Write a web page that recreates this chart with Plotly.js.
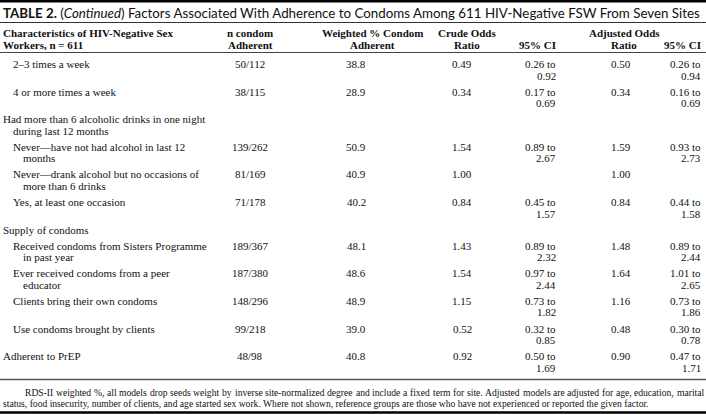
<!DOCTYPE html>
<html><head><meta charset="utf-8">
<script src="https://cdn.plot.ly/plotly-3.0.1.min.js"></script>
<style>html,body{margin:0;padding:0;background:#fff}</style>
</head><body><div id="chart" style="width:706px;height:415px"></div>
<script>
// ---------- data ----------
const titleLabel = "TABLE 2.";
const titleNote = "Continued";
const titleText = "Factors Associated With Adherence to Condoms Among 611 HIV-Negative FSW From Seven Sites";
const headerCharacteristics = ["Characteristics of HIV-Negative Sex", "Workers, n = 611"];
const headerN = ["n condom", "Adherent"];
const headerPct = ["Weighted % Condom", "Adherent"];
const headerCrude = ["Crude Odds", "Ratio"];
const headerCI = ["", "95% CI"];
const headerAdj = ["Adjusted Odds", "Ratio"];

const characteristics = [
  "2–3 times a week",
  "4 or more times a week",
  "Had more than 6 alcoholic drinks in one night\nduring last 12 months",
  "Never—have not had alcohol in last 12\nmonths",
  "Never—drank alcohol but no occasions of\nmore than 6 drinks",
  "Yes, at least one occasion",
  "Supply of condoms",
  "Received condoms from Sisters Programme\nin past year",
  "Ever received condoms from a peer\neducator",
  "Clients bring their own condoms",
  "Use condoms brought by clients",
  "Adherent to PrEP"
];
const levels = [1, 1, 0, 1, 1, 1, 0, 1, 1, 1, 1, 0];
const nAdherent = ["50/112", "38/115", null, "139/262", "81/169", "71/178", null, "189/367", "187/380", "148/296", "99/218", "48/98"];
const weightedPct = [38.8, 28.9, null, 50.9, 40.9, 40.2, null, 48.1, 48.6, 48.9, 39.0, 40.8];
const crudeOR = [0.49, 0.34, null, 1.54, 1.00, 0.84, null, 1.43, 1.54, 1.15, 0.52, 0.92];
const crudeLo = [0.26, 0.17, null, 0.89, null, 0.45, null, 0.89, 0.97, 0.73, 0.32, 0.50];
const crudeHi = [0.92, 0.69, null, 2.67, null, 1.57, null, 2.32, 2.44, 1.82, 0.85, 1.69];
const adjOR = [0.50, 0.34, null, 1.59, 1.00, 0.84, null, 1.48, 1.64, 1.16, 0.48, 0.90];
const adjLo = [0.26, 0.16, null, 0.93, null, 0.44, null, 0.89, 1.01, 0.73, 0.30, 0.47];
const adjHi = [0.94, 0.69, null, 2.73, null, 1.58, null, 2.44, 2.65, 1.86, 0.78, 1.71];

const footnoteLines = [
  "RDS-II weighted %, all models drop seeds weight by inverse site-normalized degree and include a fixed term for site. Adjusted models are adjusted for age, education, marital",
  "status, food insecurity, number of clients, and age started sex work. Where not shown, reference groups are those who have not experienced or reported the given factor."
];

// ---------- layout helpers ----------
const SERIF = "Liberation Serif, Times New Roman, serif";
const SANS = "Lato";
const BODY = 11, LINE = 11.5, PAD = 4.6;
const col = {
  lab0: 2, lab0wrap: 12, lab1: 12, lab1wrap: 22,
  n: 250, pct: 356, pctHead: 372,
  crude: 462, crudeHead: 467, crudeCI: 557,
  adj: 621, adjHead: 624, adjCI: 702
};
const cv = document.createElement("canvas").getContext("2d");
const ann = [];
function txt(x, y, t, anchor, opts) {
  opts = opts || {};
  ann.push({
    x: x, y: y, xref: "x", yref: "y", text: t, showarrow: false,
    xanchor: anchor, yanchor: "middle", borderpad: 0,
    font: Object.assign({family: SERIF, size: BODY, color: "#111"}, opts.font || {})
  });
}

// title, sized to span the table width
(function () {
  function w(size) {
    let s = 0;
    cv.font = "bold " + size + "px " + SANS; s += cv.measureText(titleLabel).width;
    cv.font = size + "px " + SANS; s += cv.measureText(" (").width + cv.measureText(") " + titleText).width;
    cv.font = "italic " + size + "px " + SANS; s += cv.measureText(titleNote).width;
    return s;
  }
  let size = 14 * 699 / w(14);
  if (!isFinite(size) || size > 15 || size < 11) size = 13.4;
  ann.push({x: 2, y: 12.5, xref: "x", yref: "y",
    text: "<b>" + titleLabel + "</b> (<i>" + titleNote + "</i>) " + titleText,
    showarrow: false, xanchor: "left", yanchor: "middle", borderpad: 0,
    font: {family: SANS + ", Open Sans, sans-serif", size: size, color: "#111"}});
})();

// header
const hy = [33, 44.5];
for (let i = 0; i < 2; i++) {
  txt(col.lab0, hy[i], "<b>" + headerCharacteristics[i] + "</b>", "left");
  txt(col.n, hy[i], "<b>" + headerN[i] + "</b>", "center");
  txt(col.pctHead, hy[i], "<b>" + headerPct[i] + "</b>", "center");
  txt(col.crudeHead, hy[i], "<b>" + headerCrude[i] + "</b>", "center");
  if (headerCI[i]) txt(col.crudeCI, hy[i], "<b>" + headerCI[i] + "</b>", "right");
  txt(col.adjHead, hy[i], "<b>" + headerAdj[i] + "</b>", "center");
  if (headerCI[i]) txt(col.adjCI, hy[i], "<b>" + headerCI[i] + "</b>", "right");
}

// body
let y = 64;
for (let r = 0; r < characteristics.length; r++) {
  const lines = characteristics[r].split("\n");
  const lvl = levels[r];
  lines.forEach((l, k) => {
    const x = lvl === 0 ? (k === 0 ? col.lab0 : col.lab0wrap) : (k === 0 ? col.lab1 : col.lab1wrap);
    txt(x, y + k * LINE, l, "left");
  });
  if (nAdherent[r] !== null) txt(col.n, y, nAdherent[r], "center");
  if (weightedPct[r] !== null) txt(col.pct, y, weightedPct[r].toFixed(1), "center");
  if (crudeOR[r] !== null) txt(col.crude, y, crudeOR[r].toFixed(2), "center");
  if (adjOR[r] !== null) txt(col.adj, y, adjOR[r].toFixed(2), "center");
  let nl = lines.length;
  if (crudeLo[r] !== null) {
    txt(col.crudeCI, y, crudeLo[r].toFixed(2) + " to", "right");
    txt(col.crudeCI, y + LINE, crudeHi[r].toFixed(2), "right");
    nl = Math.max(nl, 2);
  }
  if (adjLo[r] !== null) {
    txt(col.adjCI, y, adjLo[r].toFixed(2) + " to", "right");
    txt(col.adjCI, y + LINE, adjHi[r].toFixed(2), "right");
    nl = Math.max(nl, 2);
  }
  y += nl * LINE + PAD;
}

// footnote (first line justified)
const FN = 9.6;
cv.font = FN + "px 'Liberation Serif'";
(function () {
  const words = footnoteLines[0].split(" ");
  const widths = words.map(w => cv.measureText(w).width);
  const total = widths.reduce((a, b) => a + b, 0);
  const x1 = 703;
  let x0 = 24;
  let gap = (x1 - x0 - total) / (words.length - 1);
  if (gap < 1.5) { gap = 2.2; x0 = x1 - total - gap * (words.length - 1); }
  let x = x0;
  words.forEach((w, i) => { txt(x, 392, w, "left", {font: {size: FN}}); x += widths[i] + gap; });
  txt(2, 403, footnoteLines[1], "left", {font: {size: FN}});
})();

const shapes = [
  {type: "line", xref: "x", yref: "y", x0: 0, x1: 706, y0: 1.2, y1: 1.2, line: {color: "#000", width: 2.5}},
  {type: "line", xref: "x", yref: "y", x0: 0, x1: 706, y0: 22.5, y1: 22.5, line: {color: "#333", width: 1}},
  {type: "line", xref: "x", yref: "y", x0: 0, x1: 706, y0: 52.5, y1: 52.5, line: {color: "#444", width: 1}},
  {type: "line", xref: "x", yref: "y", x0: 0, x1: 706, y0: 379.5, y1: 379.5, line: {color: "#555", width: 1.5}},
  {type: "line", xref: "x", yref: "y", x0: 0, x1: 706, y0: 412.5, y1: 412.5, line: {color: "#000", width: 2.5}}
];

Plotly.newPlot("chart", [], {
  width: 706, height: 415,
  margin: {l: 0, r: 0, t: 0, b: 0},
  paper_bgcolor: "#fff", plot_bgcolor: "#fff",
  xaxis: {range: [0, 706], visible: false, fixedrange: true},
  yaxis: {range: [415, 0], visible: false, fixedrange: true},
  annotations: ann, shapes: shapes, showlegend: false
}, {staticPlot: true});
</script></body></html>
